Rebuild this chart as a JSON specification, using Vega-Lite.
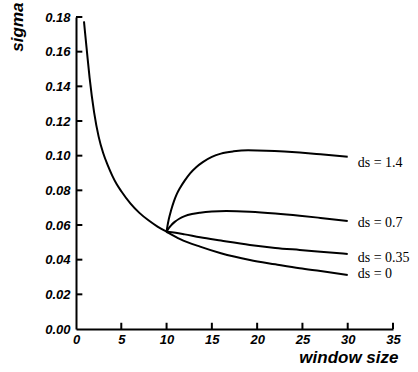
{
  "$schema": "https://vega.github.io/schema/vega-lite/v6.json",
  "width": 317,
  "height": 312,
  "autosize": {"type": "none"},
  "padding": {"left": 76, "top": 17, "right": 25, "bottom": 43},
  "background": "white",
  "config": {
    "view": {"stroke": null},
    "axis": {
      "grid": false,
      "domainColor": "black",
      "domainWidth": 2,
      "labelColor": "black",
      "labelFont": "Liberation Sans",
      "labelFontStyle": "italic",
      "labelFontWeight": "bold",
      "labelFontSize": 13,
      "titleColor": "black",
      "titleFont": "Liberation Sans",
      "titleFontStyle": "italic",
      "titleFontWeight": "bold",
      "titleFontSize": 17
    }
  },
  "resolve": {"axis": {"x": "independent", "y": "independent"}},
  "datasets": {
    "curves": [
      {"series": "ds0", "w": 0.88, "sigma": 0.1775},
      {"series": "ds0", "w": 1, "sigma": 0.171},
      {"series": "ds0", "w": 1.2, "sigma": 0.1605},
      {"series": "ds0", "w": 1.5, "sigma": 0.145},
      {"series": "ds0", "w": 2, "sigma": 0.125},
      {"series": "ds0", "w": 2.5, "sigma": 0.111},
      {"series": "ds0", "w": 3, "sigma": 0.1015},
      {"series": "ds0", "w": 3.5, "sigma": 0.0945},
      {"series": "ds0", "w": 4, "sigma": 0.0885},
      {"series": "ds0", "w": 4.5, "sigma": 0.0835},
      {"series": "ds0", "w": 5, "sigma": 0.0795},
      {"series": "ds0", "w": 6, "sigma": 0.0725},
      {"series": "ds0", "w": 7, "sigma": 0.067},
      {"series": "ds0", "w": 8, "sigma": 0.0627},
      {"series": "ds0", "w": 9, "sigma": 0.0591},
      {"series": "ds0", "w": 10, "sigma": 0.0561},
      {"series": "ds0", "w": 11.5, "sigma": 0.0519},
      {"series": "ds0", "w": 13.7, "sigma": 0.0475},
      {"series": "ds0", "w": 16, "sigma": 0.0437},
      {"series": "ds0", "w": 19.2, "sigma": 0.0398},
      {"series": "ds0", "w": 22, "sigma": 0.0373},
      {"series": "ds0", "w": 24.7, "sigma": 0.035},
      {"series": "ds0", "w": 27, "sigma": 0.0334},
      {"series": "ds0", "w": 30, "sigma": 0.0312},
      {"series": "ds035", "w": 10, "sigma": 0.0561},
      {"series": "ds035", "w": 11, "sigma": 0.0555},
      {"series": "ds035", "w": 12, "sigma": 0.0546},
      {"series": "ds035", "w": 13.7, "sigma": 0.0529},
      {"series": "ds035", "w": 16, "sigma": 0.051},
      {"series": "ds035", "w": 19.2, "sigma": 0.0485},
      {"series": "ds035", "w": 22, "sigma": 0.0468},
      {"series": "ds035", "w": 24.7, "sigma": 0.0456},
      {"series": "ds035", "w": 27, "sigma": 0.0446},
      {"series": "ds035", "w": 30, "sigma": 0.0433},
      {"series": "ds07", "w": 10, "sigma": 0.0561},
      {"series": "ds07", "w": 10.2, "sigma": 0.0578},
      {"series": "ds07", "w": 10.5, "sigma": 0.0598},
      {"series": "ds07", "w": 10.9, "sigma": 0.0618},
      {"series": "ds07", "w": 11.4, "sigma": 0.0636},
      {"series": "ds07", "w": 12, "sigma": 0.0651},
      {"series": "ds07", "w": 12.8, "sigma": 0.0663},
      {"series": "ds07", "w": 13.7, "sigma": 0.0671},
      {"series": "ds07", "w": 15, "sigma": 0.0678},
      {"series": "ds07", "w": 16.6, "sigma": 0.0681},
      {"series": "ds07", "w": 19.2, "sigma": 0.0677},
      {"series": "ds07", "w": 22, "sigma": 0.0667},
      {"series": "ds07", "w": 24.7, "sigma": 0.0654},
      {"series": "ds07", "w": 27, "sigma": 0.0641},
      {"series": "ds07", "w": 30, "sigma": 0.0623},
      {"series": "ds14", "w": 10, "sigma": 0.0561},
      {"series": "ds14", "w": 10.1, "sigma": 0.0595},
      {"series": "ds14", "w": 10.25, "sigma": 0.0635},
      {"series": "ds14", "w": 10.5, "sigma": 0.0685},
      {"series": "ds14", "w": 10.8, "sigma": 0.0735},
      {"series": "ds14", "w": 11.1, "sigma": 0.0775},
      {"series": "ds14", "w": 11.5, "sigma": 0.0815},
      {"series": "ds14", "w": 12, "sigma": 0.0856},
      {"series": "ds14", "w": 12.6, "sigma": 0.0898},
      {"series": "ds14", "w": 13.3, "sigma": 0.0935},
      {"series": "ds14", "w": 14, "sigma": 0.0963},
      {"series": "ds14", "w": 15, "sigma": 0.0993},
      {"series": "ds14", "w": 16, "sigma": 0.1012},
      {"series": "ds14", "w": 17.4, "sigma": 0.1025},
      {"series": "ds14", "w": 19, "sigma": 0.1031},
      {"series": "ds14", "w": 21, "sigma": 0.1029},
      {"series": "ds14", "w": 23, "sigma": 0.1024},
      {"series": "ds14", "w": 24.7, "sigma": 0.1018},
      {"series": "ds14", "w": 27, "sigma": 0.1008},
      {"series": "ds14", "w": 30, "sigma": 0.0994}
    ],
    "labels": [
      {"label": "ds = 1.4", "w": 31.1, "sigma": 0.0958},
      {"label": "ds = 0.7", "w": 31.1, "sigma": 0.061},
      {"label": "ds = 0.35", "w": 31.1, "sigma": 0.041},
      {"label": "ds = 0", "w": 31.1, "sigma": 0.0319}
    ],
    "yticks": [
      {"v": 0.02}, {"v": 0.04}, {"v": 0.06}, {"v": 0.08}, {"v": 0.1},
      {"v": 0.12}, {"v": 0.14}, {"v": 0.16}, {"v": 0.18}
    ],
    "xticks": [
      {"v": 5}, {"v": 10}, {"v": 15}, {"v": 20}, {"v": 25}, {"v": 30}, {"v": 35}
    ]
  },
  "layer": [
    {
      "data": {"name": "curves"},
      "mark": {"type": "line", "color": "black", "strokeWidth": 2, "interpolate": "monotone"},
      "encoding": {
        "x": {
          "field": "w", "type": "quantitative",
          "scale": {"domain": [0, 35], "nice": false, "zero": false},
          "axis": {
            "orient": "bottom",
            "values": [0, 5, 10, 15, 20, 25, 30, 35],
            "ticks": false,
            "labelOverlap": false,
            "labelFlush": false,
            "labelPadding": 4,
            "title": "window size",
            "titleAnchor": "end",
            "titleAlign": "right",
            "titleBaseline": "alphabetic",
            "titleX": 322,
            "titleY": 33
          }
        },
        "y": {
          "field": "sigma", "type": "quantitative",
          "scale": {"domain": [0, 0.18], "nice": false},
          "axis": {
            "orient": "left",
            "values": [0, 0.02, 0.04, 0.06, 0.08, 0.1, 0.12, 0.14, 0.16, 0.18],
            "format": ".2f",
            "ticks": false,
            "labelOverlap": false,
            "labelFlush": false,
            "labelPadding": 6,
            "title": "sigma",
            "titleAngle": 270,
            "titleAlign": "right",
            "titleBaseline": "alphabetic",
            "titleX": -54,
            "titleY": -15
          }
        },
        "detail": {"field": "series", "type": "nominal"}
      }
    },
    {
      "data": {"name": "labels"},
      "mark": {"type": "text", "align": "left", "baseline": "middle", "font": "Liberation Serif", "fontSize": 14, "color": "black"},
      "encoding": {
        "x": {"field": "w", "type": "quantitative", "axis": null},
        "y": {"field": "sigma", "type": "quantitative", "axis": null},
        "text": {"field": "label", "type": "nominal"}
      }
    },
    {
      "data": {"name": "yticks"},
      "mark": {"type": "rule", "color": "black", "strokeWidth": 2},
      "encoding": {
        "y": {"field": "v", "type": "quantitative", "axis": null},
        "x": {"datum": 0, "type": "quantitative", "axis": null},
        "x2": {"datum": 0.7}
      }
    },
    {
      "data": {"name": "xticks"},
      "mark": {"type": "rule", "color": "black", "strokeWidth": 2},
      "encoding": {
        "x": {"field": "v", "type": "quantitative", "axis": null},
        "y": {"datum": 0, "type": "quantitative", "axis": null},
        "y2": {"datum": 0.0036}
      }
    }
  ]
}
